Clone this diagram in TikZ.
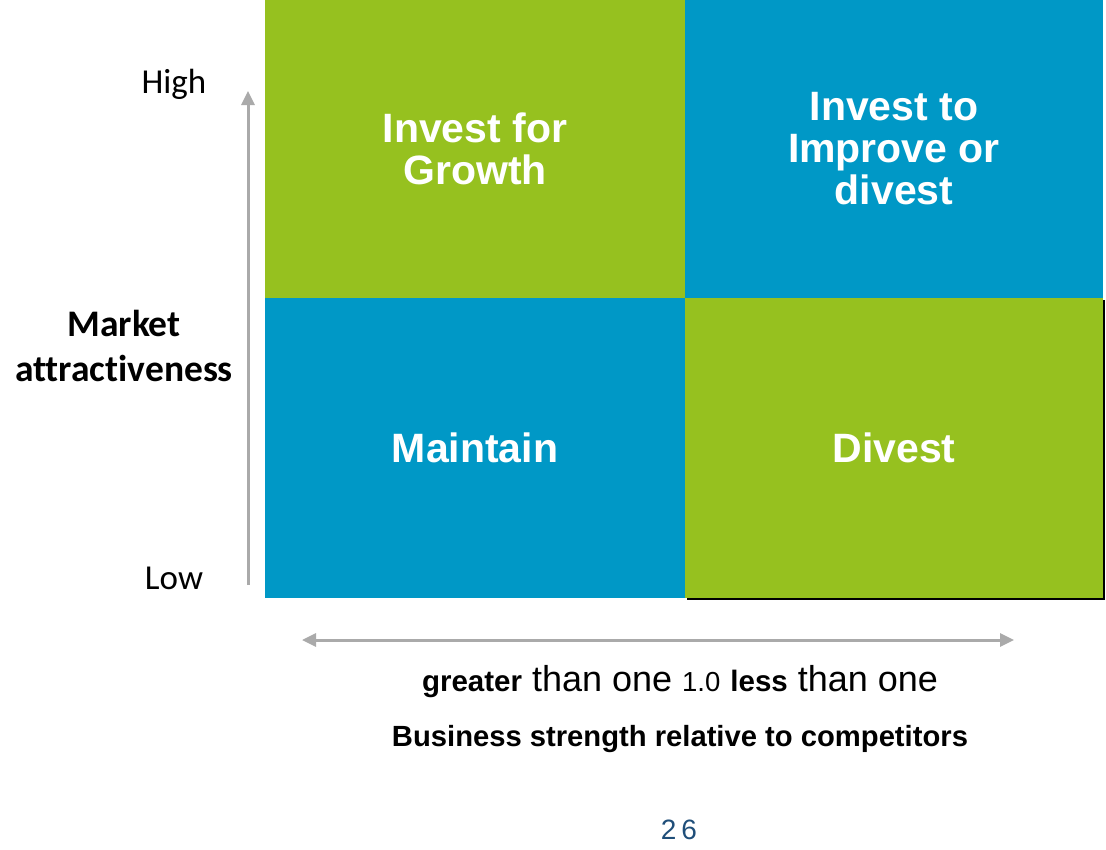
\documentclass[tikz,border=0pt]{standalone}
\usepackage{fontspec}
\setmainfont{Liberation Sans}
\newfontfamily\calibri[Ligatures=NoCommon]{Carlito}
\usetikzlibrary{positioning,arrows.meta,shadows}
\definecolor{bcggreen}{RGB}{150,193,31}
\definecolor{bcgblue}{RGB}{0,152,198}
\definecolor{axisgray}{RGB}{170,170,170}
\definecolor{pagenum}{RGB}{31,78,121}
\begin{document}
\begin{tikzpicture}[x=1pt,y=-1pt,
      quadrant/.style={
        % The shape:
        rectangle,inner sep=0pt,outer sep=0pt,
        % The rest
        draw=none,text=white,align=center,
        font=\bfseries\fontsize{41}{42}\selectfont},
      greenbox/.style={quadrant,fill=bcggreen},
      bluebox/.style={quadrant,fill=bcgblue},
      axis/.style={line width=3pt,draw=axisgray},
      level/.style={font=\calibri\fontsize{35}{40}\selectfont}]
    \useasboundingbox (0,0) rectangle (1106,849);
    \node(grow)[greenbox, minimum width=420pt, minimum height=298pt] at (475,149) {Invest for\\Growth};
    \node(improve)[bluebox, right=0pt, at=(grow.east), minimum width=418pt, minimum height=298pt] {Invest to\\Improve or\\divest};
    \node(maintain)[bluebox, below=0pt, at=(grow.south), minimum width=420pt, minimum height=300pt] {Maintain};
    \node(divest)[greenbox, right=0pt, at=(maintain.east), minimum width=418pt, minimum height=300pt,
      drop shadow={shadow xshift=2pt,shadow yshift=-2pt,fill=black,opacity=1}] {Divest};

    \node(high)[level] at (174,84) {High};
    \node(low)[level] at (174,578) {Low};
    \node(market)[align=center, font=\calibri\bfseries\fontsize{37.5}{45}\selectfont] at (124,346) {Market\\attractiveness};

    \coordinate(ylow) at (248,585);
    \coordinate(yhigh) at (248,91);
    \path (ylow) edge[axis, -{Triangle[length=14pt,width=13pt]}] (yhigh);
    \coordinate(xleft) at (302,640);
    \coordinate(xright) at (1014,640);
    \path (xleft) edge[axis, {Triangle[length=14pt,width=13pt]}-{Triangle[length=14pt,width=13pt]}] (xright);

    \node(ratio)[below=22pt, at=(xleft -| maintain.east), xshift=-5pt, font=\fontsize{36}{40}\selectfont]
      {{\bfseries\fontsize{29.5}{30}\selectfont greater} than one {\fontsize{27.5}{30}\selectfont 1.0} {\bfseries\fontsize{29.5}{30}\selectfont less} than one};
    \node(strength)[below=20pt, at=(ratio.south), font=\bfseries\fontsize{29.2}{32}\selectfont]
      {Business strength relative to competitors};
    \node(page)[text=pagenum, font=\fontsize{28}{30}\selectfont] at (679,830) {2\hspace{5pt}6};
  \end{tikzpicture}
\end{document}
